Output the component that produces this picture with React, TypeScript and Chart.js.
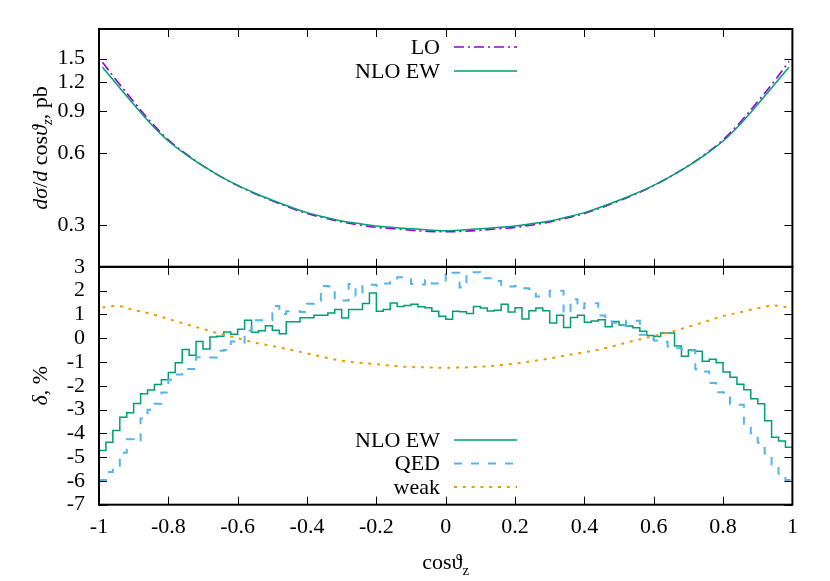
import React, { useEffect, useRef } from 'react';
import { Chart, registerables } from 'chart.js';

Chart.register(...registerables);

const SERIF = '"Liberation Serif", "Times New Roman", serif';

// x grid for the smooth curves
const cosGrid = [-0.99, -0.95, -0.9, -0.85, -0.8, -0.75, -0.7, -0.65, -0.6, -0.55, -0.5, -0.45, -0.4, -0.35, -0.3, -0.25, -0.2, -0.15, -0.1, -0.05, 0, 0.05, 0.1, 0.15, 0.2, 0.25, 0.3, 0.35, 0.4, 0.45, 0.5, 0.55, 0.6, 0.65, 0.7, 0.75, 0.8, 0.85, 0.9, 0.95, 0.99];

// top panel: dσ/dcosθ in pb
const loXsec = [1.45, 1.219, 0.99, 0.813, 0.684, 0.598, 0.532, 0.48, 0.439, 0.406, 0.379, 0.355, 0.335, 0.321, 0.309, 0.3, 0.293, 0.289, 0.285, 0.282, 0.281, 0.282, 0.285, 0.289, 0.293, 0.3, 0.309, 0.321, 0.335, 0.355, 0.379, 0.406, 0.439, 0.481, 0.532, 0.598, 0.684, 0.813, 0.99, 1.219, 1.46];
const nloXsec = [1.38, 1.176, 0.965, 0.798, 0.676, 0.594, 0.531, 0.48, 0.44, 0.408, 0.381, 0.358, 0.338, 0.324, 0.312, 0.304, 0.297, 0.293, 0.289, 0.286, 0.284, 0.286, 0.289, 0.293, 0.297, 0.304, 0.312, 0.324, 0.338, 0.358, 0.381, 0.408, 0.44, 0.481, 0.531, 0.594, 0.676, 0.798, 0.965, 1.176, 1.38];

// bottom panel: relative corrections in %, 100 bins of width 0.02 from -1 to 1
const binLow = -1;
const binWidth = 0.02;
const nloEwDelta = [
  -4.72, -4.37, -3.88, -3.32, -3.13, -2.74, -2.34, -2.18, -1.95, -1.75,
  -1.44, -1.03, -0.48, -0.72, -0.14, -0.45, 0.05, 0.08, 0.26, 0.17,
  0.38, 0.76, 0.25, 0.31, 0.52, 0.33, 0.19, 0.69, 0.69, 0.86,
  0.86, 0.97, 0.97, 1.06, 1.21, 0.85, 1.21, 1.21, 1.46, 1.9,
  1.13, 1.21, 1.48, 1.33, 1.37, 1.43, 1.32, 1.28, 1.13, 0.92,
  0.8, 1.13, 1.11, 1.04, 1.33, 1.27, 1.14, 1.18, 1.43, 1.1,
  1.28, 0.81, 1.15, 1.27, 1.15, 0.64, 0.96, 0.45, 0.87, 0.96,
  0.67, 0.72, 0.78, 0.48, 0.7, 0.56, 0.51, 0.44, 0.29, 0.11,
  0.07, 0.22, 0.22, -0.33, -0.76, -0.5, -0.55, -0.97, -0.89, -1.03,
  -1.42, -1.64, -1.94, -2.17, -2.55, -2.76, -3.47, -4.16, -4.32, -4.58,
];
const qedDelta = [
  -5.96, -5.62, -5.45, -4.82, -4.25, -4.35, -3.38, -3.01, -2.76, -2.28,
  -1.75, -1.53, -1.29, -1.29, -0.8, -0.81, -0.81, -0.53, -0.5, -0.14,
  -0.18, 0.32, 0.76, 0.76, 0.77, 1.35, 1.02, 1.13, 1.13, 1.1,
  1.45, 1.56, 2.19, 2.17, 1.58, 1.58, 2.28, 1.78, 2.21, 2.25,
  2.2, 2.3, 2.37, 2.56, 2.56, 2.28, 2.26, 2.45, 2.3, 2.3,
  2.8, 2.75, 2.13, 2.77, 2.77, 2.52, 2.52, 2.4, 2.2, 2.17,
  2.2, 2.1, 2.07, 1.75, 1.75, 1.99, 1.99, 1.05, 1.64, 1.26,
  1.47, 1.47, 0.95, 0.7, 0.65, 0.53, 0.73, 0.73, 0.15, 0.0,
  -0.1, -0.15, -0.35, -0.42, -0.48, -0.52, -1.3, -1.4, -1.88, -2.27,
  -2.28, -2.78, -2.8, -3.6, -4.0, -4.4, -4.85, -5.3, -5.7, -5.96,
];
const weakDelta = [1.29, 1.36, 1.19, 1.02, 0.81, 0.59, 0.39, 0.18, 0.0, -0.19, -0.33, -0.48, -0.64, -0.8, -0.95, -1.03, -1.09, -1.17, -1.21, -1.23, -1.24, -1.23, -1.2, -1.14, -1.07, -0.96, -0.85, -0.71, -0.59, -0.46, -0.27, -0.08, 0.09, 0.27, 0.48, 0.7, 0.93, 1.09, 1.26, 1.37, 1.29];

// ticks
const xTickValues = [-1, -0.8, -0.6, -0.4, -0.2, 0, 0.2, 0.4, 0.6, 0.8, 1];
const xTickLabels = ['-1', '-0.8', '-0.6', '-0.4', '-0.2', '0', '0.2', '0.4', '0.6', '0.8', '1'];
const topTickValues = [0.3, 0.6, 0.9, 1.2, 1.5];
const topTickLabels = ['0.3', '0.6', '0.9', '1.2', '1.5'];
const botTickValues = [-7, -6, -5, -4, -3, -2, -1, 0, 1, 2, 3];
const botTickLabels = ['-7', '-6', '-5', '-4', '-3', '-2', '-1', '0', '1', '2', '3'];

const C_LO = '#9400d3';
const C_NLO = '#009e73';
const C_QED = '#56b4e9';
const C_WEAK = '#e69f00';

function labelFor(values: number[], labels: string[], v: number) {
  let best = 0;
  for (let i = 0; i < values.length; i++) {
    if (Math.abs(values[i] - v) < Math.abs(values[best] - v)) best = i;
  }
  return labels[best];
}

function histSteps(vals: number[]) {
  const pts = vals.map((v, i) => ({ x: binLow + binWidth * i, y: v }));
  pts.push({ x: binLow + binWidth * vals.length, y: vals[vals.length - 1] });
  return pts;
}

type Seg = { t: string; italic?: boolean; size?: number; dy?: number };

function drawRich(ctx: CanvasRenderingContext2D, segs: Seg[], cx: number, y: number) {
  const fontOf = (s: Seg) => `${s.italic ? 'italic ' : ''}${s.size || 22}px ${SERIF}`;
  const widths = segs.map((s) => {
    ctx.font = fontOf(s);
    return ctx.measureText(s.t).width;
  });
  const total = widths.reduce((a, b) => a + b, 0);
  let x = cx - total / 2;
  ctx.textAlign = 'left';
  ctx.textBaseline = 'alphabetic';
  segs.forEach((s, i) => {
    ctx.font = fontOf(s);
    ctx.fillText(s.t, x, y + (s.dy || 0));
    x += widths[i];
  });
}

const decorPlugin = {
  id: 'gnuplotDecor',
  afterDatasetsDraw(chart: any) {
    const ctx: CanvasRenderingContext2D = chart.ctx;
    const xs = chart.scales.x;
    const yt = chart.scales.yTop;
    const yb = chart.scales.yBot;
    const L = chart.chartArea.left;
    const R = chart.chartArea.right;
    const T = 8;
    ctx.save();
    ctx.strokeStyle = '#000';
    ctx.lineWidth = 1;
    ctx.setLineDash([]);
    const panels: [any, number[]][] = [
      [yt, topTickValues],
      [yb, botTickValues],
    ];
    for (const [sc, vals] of panels) {
      ctx.beginPath();
      for (const v of xTickValues) {
        const px = Math.round(xs.getPixelForValue(v)) + 0.5;
        ctx.moveTo(px, sc.top);
        ctx.lineTo(px, sc.top + T);
        ctx.moveTo(px, sc.bottom);
        ctx.lineTo(px, sc.bottom - T);
      }
      for (const v of vals) {
        const py = Math.round(sc.getPixelForValue(v)) + 0.5;
        ctx.moveTo(L, py);
        ctx.lineTo(L + T, py);
        ctx.moveTo(R, py);
        ctx.lineTo(R - T, py);
      }
      ctx.stroke();
    }
    ctx.lineWidth = 2;
    ctx.strokeRect(L, yt.top, R - L, yt.bottom - yt.top);
    ctx.strokeRect(L, yb.top, R - L, yb.bottom - yb.top);

    // keys
    const ds = chart.data.datasets;
    const key = (idx: number, y: number) => {
      const d = ds[idx];
      ctx.fillStyle = '#000';
      ctx.font = `22px ${SERIF}`;
      ctx.textAlign = 'right';
      ctx.textBaseline = 'middle';
      ctx.fillText(d.label, 440, y + 1);
      ctx.strokeStyle = d.borderColor;
      ctx.lineWidth = d.borderWidth;
      ctx.setLineDash(d.borderDash || []);
      ctx.beginPath();
      ctx.moveTo(454, y);
      ctx.lineTo(517, y);
      ctx.stroke();
      ctx.setLineDash([]);
    };
    key(0, 47);
    key(1, 71);
    key(2, 440);
    key(3, 463.5);
    key(4, 487);

    // axis titles
    ctx.fillStyle = '#000';
    drawRich(ctx, [{ t: 'cos' }, { t: 'ϑ' }, { t: 'z', size: 15, dy: 6 }], (L + R) / 2, 569);

    ctx.save();
    ctx.translate(47, (yt.top + yt.bottom) / 2);
    ctx.rotate(-Math.PI / 2);
    drawRich(ctx, [
      { t: 'd', italic: true },
      { t: 'σ', italic: true },
      { t: '/' },
      { t: 'd', italic: true },
      { t: ' cos' },
      { t: 'ϑ', italic: true },
      { t: 'z', italic: true, size: 15, dy: 5 },
      { t: ', pb' },
    ], 0, 0);
    ctx.restore();

    ctx.save();
    ctx.translate(47, (yb.top + yb.bottom) / 2);
    ctx.rotate(-Math.PI / 2);
    drawRich(ctx, [{ t: 'δ', italic: true }, { t: ', %' }], 0, 0);
    ctx.restore();

    ctx.restore();
  },
};

export default function App() {
  const ref = useRef<HTMLCanvasElement | null>(null);

  useEffect(() => {
    if (!ref.current) return;
    const tickFont = { family: SERIF, size: 22 };
    const chart = new Chart(ref.current, {
      type: 'line',
      data: {
        datasets: [
          {
            label: 'LO',
            data: cosGrid.map((x, i) => ({ x, y: loXsec[i] })),
            yAxisID: 'yTop',
            borderColor: C_LO,
            borderWidth: 1.6,
            borderDash: [10, 4, 2, 4],
            pointRadius: 0,
            tension: 0.35,
            order: 5,
          },
          {
            label: 'NLO EW',
            data: cosGrid.map((x, i) => ({ x, y: nloXsec[i] })),
            yAxisID: 'yTop',
            borderColor: C_NLO,
            borderWidth: 1.5,
            pointRadius: 0,
            tension: 0.35,
            order: 4,
          },
          {
            label: 'NLO EW',
            data: histSteps(nloEwDelta),
            yAxisID: 'yBot',
            borderColor: C_NLO,
            borderWidth: 1.5,
            stepped: 'before',
            pointRadius: 0,
            order: 3,
          },
          {
            label: 'QED',
            data: histSteps(qedDelta),
            yAxisID: 'yBot',
            borderColor: C_QED,
            borderWidth: 2,
            borderDash: [8, 9],
            stepped: 'before',
            pointRadius: 0,
            order: 2,
          },
          {
            label: 'weak',
            data: cosGrid.map((x, i) => ({ x, y: weakDelta[i] })),
            yAxisID: 'yBot',
            borderColor: C_WEAK,
            borderWidth: 2,
            borderDash: [3, 5.8],
            pointRadius: 0,
            cubicInterpolationMode: 'monotone',
            order: 1,
          },
        ],
      } as any,
      options: {
        responsive: false,
        animation: false,
        devicePixelRatio: 1,
        events: [],
        layout: { padding: { left: 0, right: 37.6, top: 29, bottom: 0 } },
        plugins: { legend: { display: false }, tooltip: { enabled: false } },
        scales: {
          x: {
            type: 'linear',
            position: 'bottom',
            min: -1,
            max: 1,
            afterBuildTicks: (ax: any) => {
              ax.ticks = xTickValues.map((v) => ({ value: v }));
            },
            afterFit: (ax: any) => {
              ax.height = 76.3;
            },
            ticks: {
              autoSkip: false,
              maxRotation: 0,
              minRotation: 0,
              padding: 9,
              color: '#000',
              font: tickFont,
              callback: (v: any) => labelFor(xTickValues, xTickLabels, Number(v)),
            },
            grid: { display: false, drawTicks: false },
            border: { display: false },
          },
          yBot: {
            type: 'linear',
            position: 'left',
            stack: 'panels',
            stackWeight: 1,
            min: -7,
            max: 3,
            afterBuildTicks: (ax: any) => {
              ax.ticks = botTickValues.map((v) => ({ value: v }));
            },
            afterFit: (ax: any) => {
              ax.width = 99;
            },
            ticks: {
              autoSkip: false,
              padding: 14,
              color: '#000',
              font: tickFont,
              callback: (v: any) => labelFor(botTickValues, botTickLabels, Number(v)),
            },
            grid: { display: false, drawTicks: false },
            border: { display: false },
          },
          yTop: {
            type: 'logarithmic',
            position: 'left',
            stack: 'panels',
            stackWeight: 1,
            min: 0.2,
            max: 2,
            afterBuildTicks: (ax: any) => {
              ax.ticks = topTickValues.map((v) => ({ value: v }));
            },
            afterFit: (ax: any) => {
              ax.width = 99;
            },
            ticks: {
              autoSkip: false,
              padding: 14,
              color: '#000',
              font: tickFont,
              callback: (v: any) => labelFor(topTickValues, topTickLabels, Number(v)),
            },
            grid: { display: false, drawTicks: false },
            border: { display: false },
          },
        },
      } as any,
      plugins: [decorPlugin],
    });
    return () => chart.destroy();
  }, []);

  return (
    <div style={{ position: 'absolute', left: 0, top: 0, width: 830, height: 581, background: '#fff' }}>
      <canvas ref={ref} width={830} height={581} style={{ display: 'block' }} />
    </div>
  );
}
